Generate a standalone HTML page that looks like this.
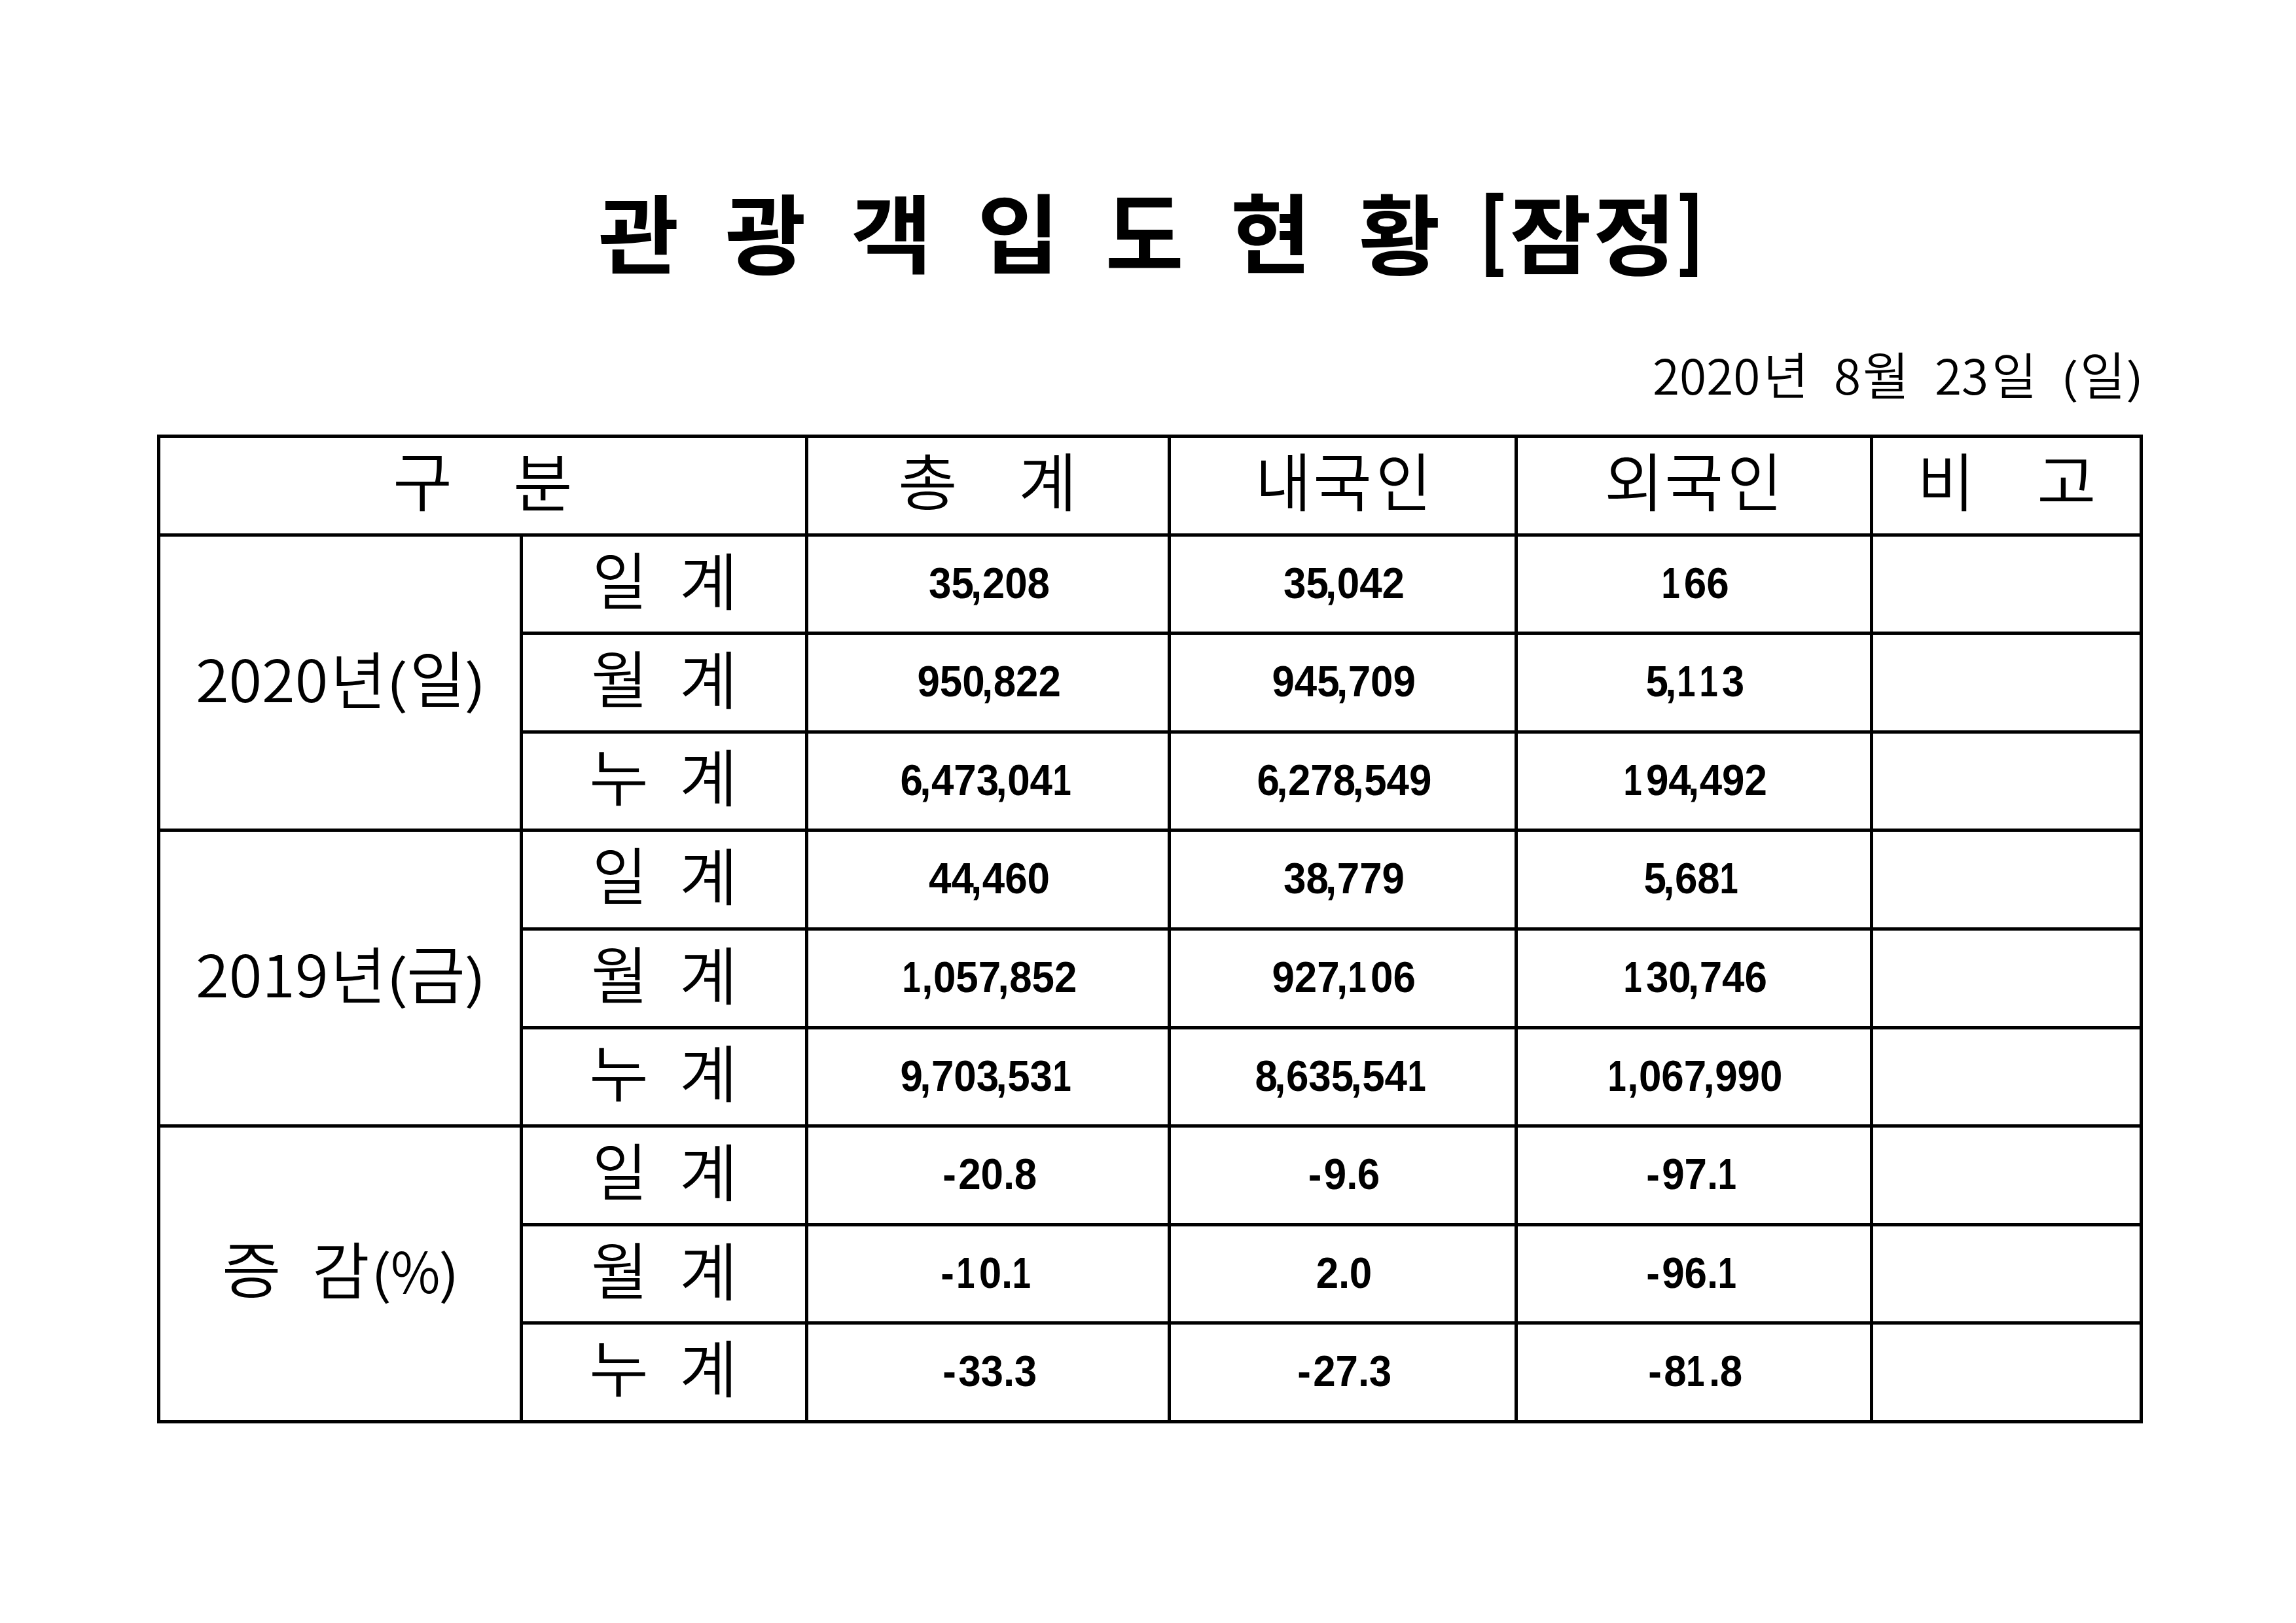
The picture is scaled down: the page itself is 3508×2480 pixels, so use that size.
<!DOCTYPE html>
<html lang="ko">
<head>
<meta charset="utf-8">
<title>관광객 입도현황 (잠정)</title>
<style>
html,body{margin:0;padding:0;background:#fff;}
body{width:3508px;height:2480px;display:flow-root;overflow:hidden;color:#000;
  font-family:"Noto Sans CJK KR","Liberation Sans",sans-serif;}
.l{position:absolute;left:0;top:0;margin:0;font-size:0;line-height:0;white-space:nowrap;font-weight:inherit;}
.t{display:inline-block;position:relative;width:0;height:0;vertical-align:top;white-space:pre;line-height:1;transform-origin:0 0;}
.w700{font-weight:700} .w900{font-weight:900} .w350{font-weight:350}
table{margin:664px 0 0 240px;width:3034px;table-layout:fixed;
  border-collapse:separate;border-spacing:0;border-left:5px solid #000;border-top:5px solid #000;}
td,th{box-sizing:border-box;padding:0;border-right:5px solid #000;border-bottom:5px solid #000;font-weight:inherit;}
.n{position:absolute;text-align:center;white-space:pre;line-height:1;font-size:67.21px;font-weight:700;
  font-family:"Liberation Sans","Noto Sans CJK KR",sans-serif;}
.n b{display:inline-block;font-weight:700;transform:scaleX(0.9206);transform-origin:50% 50%;}
.n i{font-style:normal;}
.n i.o{display:inline-block;transform:scaleX(.82);transform-origin:0 50%;}
.n i.c{margin-left:-5.1px;margin-right:0.54px}
.n i.p{margin-right:-0.65px}
.n i.m{margin-right:3.69px}
</style>
</head>
<body>
<h1 class="l"><span class="t w700" style="left:914.2px;top:285.5px;font-size:132.00px;transform:scale(1.017,0.994);">관</span> <span class="t w700" style="left:1108.3px;top:285.3px;font-size:132.00px;transform:scale(1.019,1.009);">광</span> <span class="t w700" style="left:1299.7px;top:285.7px;font-size:132.00px;transform:scale(1.025,0.984);">객</span> <span class="t w700" style="left:1493.4px;top:284.4px;font-size:132.00px;transform:scale(1.035,0.997);">입</span> <span class="t w700" style="left:1688.9px;top:279.1px;font-size:132.00px;transform:scale(0.983,1.070);">도</span> <span class="t w700" style="left:1880.2px;top:284.3px;font-size:132.00px;transform:scale(1.015,1.003);">현</span> <span class="t w700" style="left:2075.5px;top:284.8px;font-size:132.00px;transform:scale(1.026,1.019);">황</span> <span class="t w900" style="left:2260.2px;top:286.8px;font-size:129.39px;transform:scaleX(0.822);">[</span><span class="t w700" style="left:2306.7px;top:285.6px;font-size:132.00px;transform:scale(1.026,0.988);">잠</span><span class="t w700" style="left:2433.8px;top:285.3px;font-size:132.00px;transform:scale(1.044,1.013);">정</span><span class="t w900" style="left:2560.9px;top:286.8px;font-size:129.39px;transform:scaleX(0.822);">]</span></h1>
<p class="l"><span class="t w350" style="left:2525.3px;top:534.8px;font-size:73.42px;transform:scaleX(1.020);">2020</span><span class="t w350" style="left:2693.7px;top:531.4px;font-size:78.35px;transform:scale(0.956,0.993);">년</span> <span class="t w350" style="left:2802.1px;top:534.8px;font-size:73.42px;transform:scaleX(1.020);">8</span><span class="t w350" style="left:2845.8px;top:531.1px;font-size:78.35px;transform:scaleX(0.984);">월</span> <span class="t w350" style="left:2956.1px;top:534.8px;font-size:73.42px;transform:scaleX(1.020);">23</span><span class="t w350" style="left:3042.5px;top:532.2px;font-size:78.35px;transform:scale(0.956,0.974);">일</span> <span class="t w350" style="left:3148.2px;top:546.8px;font-size:64.85px;transform:scaleX(1.296);">(</span><span class="t w350" style="left:3178.4px;top:531.1px;font-size:78.35px;transform:scaleX(0.956);">일</span><span class="t w350" style="left:3247.5px;top:546.8px;font-size:64.85px;transform:scaleX(1.296);">)</span></p>
<table>
<colgroup><col style="width:554px"><col style="width:436px"><col style="width:554px"><col style="width:530px"><col style="width:543px"><col style="width:412px"></colgroup>
<tr style="height:151px"><th colspan="2"><div class="l"><span class="t w350" style="left:599.7px;top:681.2px;font-size:96.20px;transform:scale(1.029,1.022);">구</span> <span class="t w350" style="left:784.0px;top:683.5px;font-size:96.20px;transform:scale(1.024,1.003);">분</span></div></th><th><div class="l"><span class="t w350" style="left:1371.9px;top:684.5px;font-size:96.20px;transform:scale(1.027,0.969);">총</span> <span class="t w350" style="left:1555.6px;top:683.2px;font-size:96.20px;transform:scale(1.012,1.002);">계</span></div></th><th><div class="l"><span class="t w350" style="left:1917.9px;top:683.4px;font-size:96.20px;transform:scaleX(0.966);">내</span><span class="t w350" style="left:2006.1px;top:682.4px;font-size:96.20px;transform:scale(1.018,1.009);">국</span><span class="t w350" style="left:2102.4px;top:683.4px;font-size:96.20px;transform:scale(0.958,1.004);">인</span></div></th><th><div class="l"><span class="t w350" style="left:2451.4px;top:683.4px;font-size:96.20px;transform:scaleX(1.028);">외</span><span class="t w350" style="left:2542.9px;top:682.4px;font-size:96.20px;transform:scale(1.019,1.009);">국</span><span class="t w350" style="left:2639.0px;top:683.4px;font-size:96.20px;transform:scale(0.947,1.004);">인</span></div></th><th><div class="l"><span class="t w350" style="left:2928.8px;top:683.4px;font-size:96.20px;transform:scaleX(0.995);">비</span> <span class="t w350" style="left:3112.1px;top:684.3px;font-size:96.20px;transform:scale(1.024,0.965);">고</span></div></th></tr>
<tr style="height:150px"><th rowspan="3"><div class="l"><span class="t w350" style="left:299.0px;top:991.2px;font-size:88.82px;transform:scaleX(1.037);">2020</span><span class="t w350" style="left:505.3px;top:985.5px;font-size:96.20px;transform:scale(0.956,0.998);">년</span><span class="t w350" style="left:588.8px;top:1004.8px;font-size:80.20px;transform:scaleX(1.304);">(</span><span class="t w350" style="left:625.7px;top:985.7px;font-size:96.20px;transform:scale(0.950,0.980);">일</span><span class="t w350" style="left:708.7px;top:1004.8px;font-size:80.20px;transform:scaleX(1.304);">)</span></div></th><th><div class="l"><span class="t w350" style="left:905.0px;top:834.6px;font-size:96.20px;transform:scale(0.945,0.989);">일</span> <span class="t w350" style="left:1038.2px;top:834.6px;font-size:96.20px;transform:scale(1.008,0.996);">계</span></div></th><td><span class="n" style="left:1237.2px;top:857.0px;width:549px"><b>35<i class="c">,</i>208</b></span></td><td><span class="n" style="left:1791.2px;top:857.0px;width:525px"><b>35<i class="c">,</i>042</b></span></td><td><span class="n" style="left:2321.2px;top:857.0px;width:538px"><b><i class="o">1</i>66</b></span></td><td></td></tr>
<tr style="height:151px"><th><div class="l"><span class="t w350" style="left:902.8px;top:985.4px;font-size:96.20px;transform:scale(0.984,0.993);">월</span> <span class="t w350" style="left:1038.0px;top:985.3px;font-size:96.20px;transform:scale(1.004,0.997);">계</span></div></th><td><span class="n" style="left:1237.2px;top:1007.0px;width:549px"><b>950<i class="c">,</i>822</b></span></td><td><span class="n" style="left:1791.2px;top:1007.0px;width:525px"><b>945<i class="c">,</i>709</b></span></td><td><span class="n" style="left:2321.2px;top:1007.0px;width:538px"><b>5<i class="c">,</i><i class="o">1</i><i class="o">1</i>3</b></span></td><td></td></tr>
<tr style="height:150px"><th><div class="l"><span class="t w350" style="left:899.8px;top:1135.4px;font-size:96.20px;transform:scale(1.026,0.994);">누</span> <span class="t w350" style="left:1038.0px;top:1136.1px;font-size:96.20px;transform:scale(1.004,0.987);">계</span></div></th><td><span class="n" style="left:1234.2px;top:1158.0px;width:549px"><b>6<i class="c">,</i>473<i class="c">,</i>04<i class="o">1</i></b></span></td><td><span class="n" style="left:1791.2px;top:1158.0px;width:525px"><b>6<i class="c">,</i>278<i class="c">,</i>549</b></span></td><td><span class="n" style="left:2321.2px;top:1158.0px;width:538px"><b><i class="o">1</i>94<i class="c">,</i>492</b></span></td><td></td></tr>
<tr style="height:151px"><th rowspan="3"><div class="l"><span class="t w350" style="left:299.0px;top:1442.3px;font-size:88.82px;transform:scaleX(1.039);">2019</span><span class="t w350" style="left:505.3px;top:1436.7px;font-size:96.20px;transform:scale(0.956,0.996);">년</span><span class="t w350" style="left:588.8px;top:1455.8px;font-size:80.20px;transform:scaleX(1.304);">(</span><span class="t w350" style="left:621.1px;top:1434.3px;font-size:96.20px;transform:scale(1.017,1.017);">금</span><span class="t w350" style="left:708.7px;top:1455.8px;font-size:80.20px;transform:scaleX(1.304);">)</span></div></th><th><div class="l"><span class="t w350" style="left:905.0px;top:1285.6px;font-size:96.20px;transform:scale(0.945,0.989);">일</span> <span class="t w350" style="left:1038.2px;top:1285.6px;font-size:96.20px;transform:scale(1.008,0.996);">계</span></div></th><td><span class="n" style="left:1237.2px;top:1308.0px;width:549px"><b>44<i class="c">,</i>460</b></span></td><td><span class="n" style="left:1791.2px;top:1308.0px;width:525px"><b>38<i class="c">,</i>779</b></span></td><td><span class="n" style="left:2318.2px;top:1308.0px;width:538px"><b>5<i class="c">,</i>68<i class="o">1</i></b></span></td><td></td></tr>
<tr style="height:151px"><th><div class="l"><span class="t w350" style="left:902.8px;top:1437.4px;font-size:96.20px;transform:scale(0.984,0.993);">월</span> <span class="t w350" style="left:1038.0px;top:1437.3px;font-size:96.20px;transform:scale(1.004,0.997);">계</span></div></th><td><span class="n" style="left:1237.2px;top:1459.0px;width:549px"><b><i class="o">1</i><i class="c">,</i>057<i class="c">,</i>852</b></span></td><td><span class="n" style="left:1791.2px;top:1459.0px;width:525px"><b>927<i class="c">,</i><i class="o">1</i>06</b></span></td><td><span class="n" style="left:2321.2px;top:1459.0px;width:538px"><b><i class="o">1</i>30<i class="c">,</i>746</b></span></td><td></td></tr>
<tr style="height:150px"><th><div class="l"><span class="t w350" style="left:899.8px;top:1587.4px;font-size:96.20px;transform:scale(1.026,0.994);">누</span> <span class="t w350" style="left:1038.0px;top:1588.1px;font-size:96.20px;transform:scale(1.004,0.987);">계</span></div></th><td><span class="n" style="left:1234.2px;top:1610.0px;width:549px"><b>9<i class="c">,</i>703<i class="c">,</i>53<i class="o">1</i></b></span></td><td><span class="n" style="left:1788.2px;top:1610.0px;width:525px"><b>8<i class="c">,</i>635<i class="c">,</i>54<i class="o">1</i></b></span></td><td><span class="n" style="left:2321.2px;top:1610.0px;width:538px"><b><i class="o">1</i><i class="c">,</i>067<i class="c">,</i>990</b></span></td><td></td></tr>
<tr style="height:151px"><th rowspan="3"><div class="l"><span class="t w350" style="left:339.1px;top:1887.6px;font-size:96.20px;transform:scale(1.023,0.980);">증</span> <span class="t w350" style="left:477.1px;top:1888.5px;font-size:96.20px;transform:scale(0.991,0.989);">감</span><span class="t w350" style="left:566.4px;top:1907.4px;font-size:80.20px;transform:scaleX(1.221);">(</span><span class="t w350" style="left:596.7px;top:1896.1px;font-size:86.45px;transform:scaleX(0.956);">%</span><span class="t w350" style="left:670.4px;top:1907.4px;font-size:80.20px;transform:scaleX(1.221);">)</span></div></th><th><div class="l"><span class="t w350" style="left:905.0px;top:1737.6px;font-size:96.20px;transform:scale(0.945,0.989);">일</span> <span class="t w350" style="left:1038.2px;top:1737.6px;font-size:96.20px;transform:scale(1.008,0.996);">계</span></div></th><td><span class="n" style="left:1237.2px;top:1760.0px;width:549px"><b><i class="m">-</i>20<i class="p">.</i>8</b></span></td><td><span class="n" style="left:1791.2px;top:1760.0px;width:525px"><b><i class="m">-</i>9<i class="p">.</i>6</b></span></td><td><span class="n" style="left:2318.2px;top:1760.0px;width:538px"><b><i class="m">-</i>97<i class="p">.</i><i class="o">1</i></b></span></td><td></td></tr>
<tr style="height:150px"><th><div class="l"><span class="t w350" style="left:902.8px;top:1889.4px;font-size:96.20px;transform:scale(0.984,0.993);">월</span> <span class="t w350" style="left:1038.0px;top:1889.3px;font-size:96.20px;transform:scale(1.004,0.997);">계</span></div></th><td><span class="n" style="left:1234.2px;top:1911.0px;width:549px"><b><i class="m">-</i><i class="o">1</i>0<i class="p">.</i><i class="o">1</i></b></span></td><td><span class="n" style="left:1791.2px;top:1911.0px;width:525px"><b>2<i class="p">.</i>0</b></span></td><td><span class="n" style="left:2318.2px;top:1911.0px;width:538px"><b><i class="m">-</i>96<i class="p">.</i><i class="o">1</i></b></span></td><td></td></tr>
<tr style="height:151px"><th><div class="l"><span class="t w350" style="left:899.8px;top:2038.4px;font-size:96.20px;transform:scale(1.026,0.994);">누</span> <span class="t w350" style="left:1038.0px;top:2039.1px;font-size:96.20px;transform:scale(1.004,0.987);">계</span></div></th><td><span class="n" style="left:1237.2px;top:2061.0px;width:549px"><b><i class="m">-</i>33<i class="p">.</i>3</b></span></td><td><span class="n" style="left:1791.2px;top:2061.0px;width:525px"><b><i class="m">-</i>27<i class="p">.</i>3</b></span></td><td><span class="n" style="left:2321.2px;top:2061.0px;width:538px"><b><i class="m">-</i>8<i class="o">1</i><i class="p">.</i>8</b></span></td><td></td></tr>
</table>
</body>
</html>
